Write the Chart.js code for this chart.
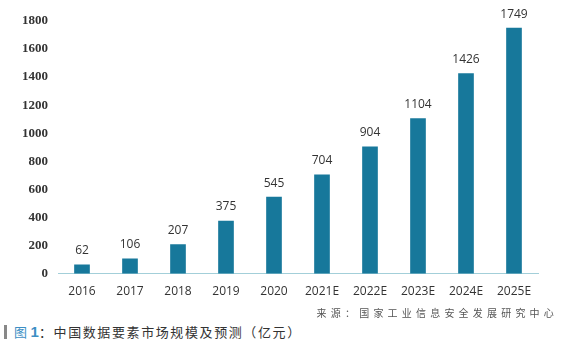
<!DOCTYPE html>
<html>
<head>
<meta charset="utf-8">
<script src="https://cdn.jsdelivr.net/npm/chart.js@4"></script>
<style>
  html, body { margin: 0; padding: 0; background: #fff; }
  body { width: 562px; height: 348px; position: relative; overflow: hidden; }
  #wrap { position: absolute; left: 0; top: 0; width: 562px; height: 310px; }
  .source {
    position: absolute; right: 4px; top: 305px;
    font-family: "Noto Sans CJK SC", sans-serif; font-size: 10px;
    letter-spacing: 4.2px; color: #555; white-space: nowrap;
  }
  .title {
    position: absolute; left: 4px; top: 322px;
    font-family: "Noto Sans CJK SC", sans-serif; font-size: 13px;
    letter-spacing: 1.6px; color: #333; white-space: nowrap;
  }
  .title .bar { display: inline-block; width: 3px; height: 14px; background: #888; vertical-align: -2px; margin-right: 7px; }
  .title .fig { color: #3d8fc4; }
  .title .num { color: #3d8fc4; font-family: "Liberation Sans", sans-serif; font-weight: 900; font-size: 15px; margin-left: 2px; letter-spacing: 0; }
</style>
</head>
<body>
<div id="wrap"><canvas id="myChart"></canvas></div>
<div class="source">来源：国家工业信息安全发展研究中心</div>
<div class="title"><span class="bar"></span><span class="fig">图</span><span class="num">1</span>：中国数据要素市场规模及预测（亿元）</div>
<script>
const years = ["2016", "2017", "2018", "2019", "2020", "2021E", "2022E", "2023E", "2024E", "2025E"];
const marketSize = [62, 106, 207, 375, 545, 704, 904, 1104, 1426, 1749];
const yTicks = [0, 200, 400, 600, 800, 1000, 1200, 1400, 1600, 1800];

const valueLabels = {
  id: "valueLabels",
  afterDatasetsDraw(chart) {
    const ctx = chart.ctx;
    const meta = chart.getDatasetMeta(0);
    ctx.save();
    ctx.font = "12px 'Open Sans'";
    ctx.fillStyle = "#333";
    ctx.textAlign = "center";
    ctx.textBaseline = "bottom";
    meta.data.forEach((bar, i) => {
      ctx.fillText(String(marketSize[i]), bar.x, bar.y - 8);
    });
    ctx.restore();
  },
};

const ctx = document.getElementById("myChart").getContext("2d");
const chart = new Chart(ctx, {
  type: "bar",
  data: {
    labels: years,
    datasets: [
      {
        data: marketSize,
        backgroundColor: "#17789b",
        barThickness: 15,
      },
    ],
  },
  options: {
    responsive: true,
    maintainAspectRatio: false,
    animation: false,
    layout: { padding: { top: 21, right: 24, left: 0, bottom: 0 } },
    plugins: {
      legend: { display: false },
      tooltip: { enabled: false },
    },
    scales: {
      x: {
        grid: { display: false, drawTicks: false },
        border: { display: true, color: "#a3cfd9", width: 1 },
        ticks: {
          color: "#333",
          font: { family: "Open Sans", size: 12 },
          padding: 11,
          maxRotation: 0,
          autoSkip: false,
        },
      },
      y: {
        min: 0,
        max: 1800,
        afterBuildTicks: (scale) => {
          scale.ticks = yTicks.map((v) => ({ value: v }));
        },
        afterFit: (scale) => {
          scale.width = 58;
        },
        grid: { display: false, drawTicks: false },
        border: { display: false },
        ticks: {
          color: "#333",
          font: { family: "Liberation Serif", size: 13, weight: "bold" },
          padding: 10,
          callback: (value) => String(value),
        },
      },
    },
  },
  plugins: [valueLabels],
});
</script>
</body>
</html>
